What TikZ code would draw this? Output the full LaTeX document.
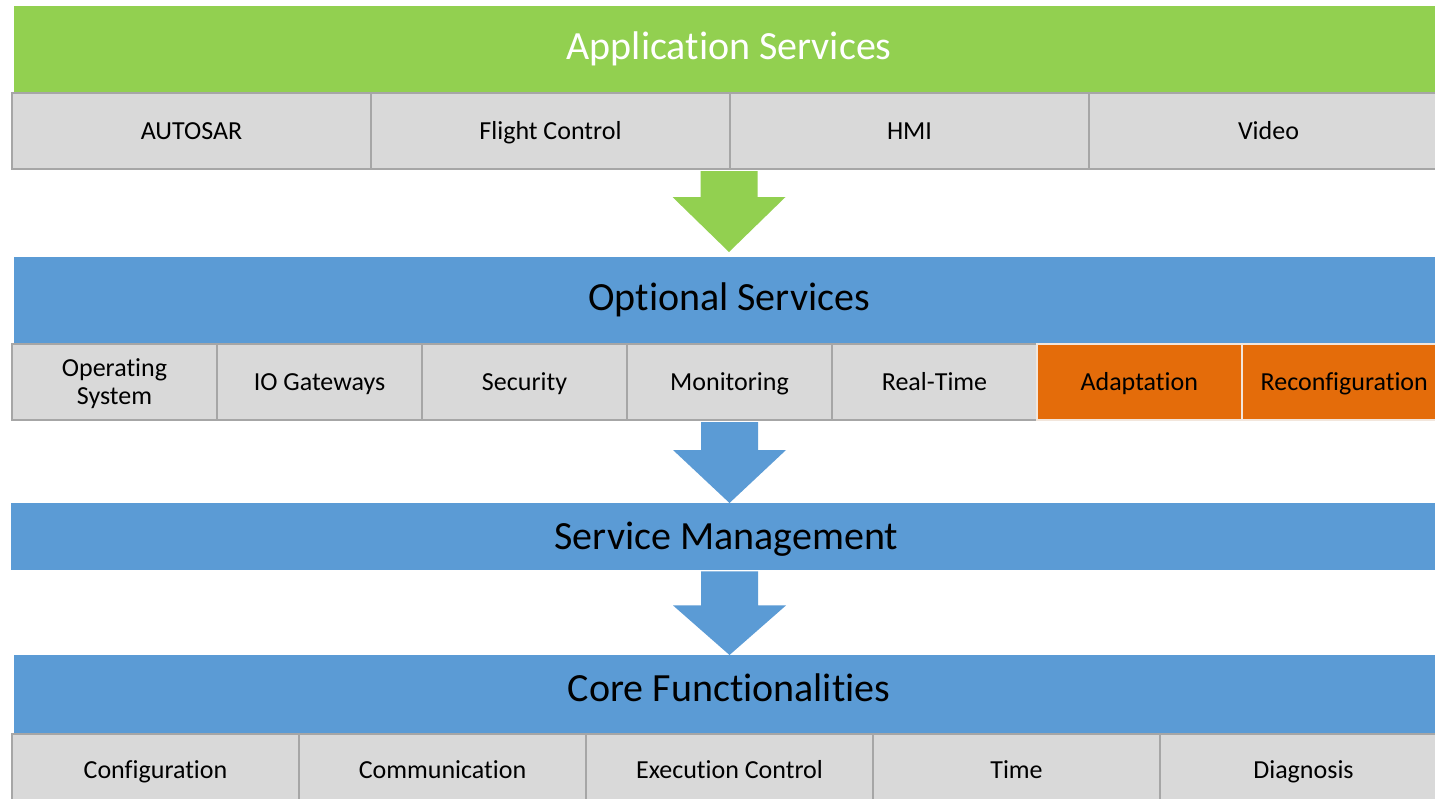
\documentclass[tikz,border=0pt]{standalone}
\usepackage{fontspec}
\setmainfont{Carlito}[Ligatures=NoCommon]
\usetikzlibrary{calc}
\definecolor{appgreen}{HTML}{92D050}
\definecolor{optblue}{HTML}{5B9BD5}
\definecolor{cellgray}{HTML}{D9D9D9}
\definecolor{cellborder}{HTML}{A6A6A6}
\definecolor{adaporange}{HTML}{E46C0A}
\definecolor{orangeborder}{HTML}{F2E6DC}
\newcommand\blockarr[4]{%
  \fill[#1] ($(#2)+(-28.5,1)$) -- ($(#2)+(28.5,1)$) -- ($(#2)+(28.5,#3)$) -- ($(#2)+(56.5,#3)$) -- (#4) -- ($(#2)+(-56.5,#3)$) -- ($(#2)+(-28.5,#3)$) -- cycle;}
\begin{document}
\begin{tikzpicture}[x=1pt,y=-1pt,
  band/.style={anchor=north west, inner sep=0pt, text height=30pt, text depth=10pt, font=\fontsize{40}{48}\selectfont},
  cell/.style={anchor=north west, draw=cellborder, line width=2pt, fill=cellgray, inner sep=0pt, align=center, text height=20pt, text depth=3pt, font=\fontsize{26}{28}\selectfont},
  hotcell/.style={cell, fill=adaporange, draw=orangeborder, line width=1.5pt},
  row1/.style={cell, minimum width=359pt, minimum height=76pt},
  row2/.style={cell, minimum width=205pt, minimum height=76pt},
  row2hot/.style={hotcell, minimum width=205pt, minimum height=76pt},
  row4/.style={cell, minimum width=287pt, minimum height=72pt}]
\useasboundingbox (0,0) rectangle (1435,798);
\clip (0,0) rectangle (1435,798);
\fill[white] (0,0) rectangle (1435,798);

% Application services
\node[band, fill=appgreen, text=white, minimum width=1430pt, minimum height=86pt] (app) at (14,6) {Application Services};
\node[row1] (autosar) at (11,92) {AUTOSAR};
\node[row1] (flight) at (370,92) {Flight Control};
\node[row1] (hmi) at (729,92) {HMI};
\node[row1] (video) at (1088,92) {Video};

% Optional services
\node[band, fill=optblue, minimum width=1430pt, minimum height=86pt] (opt) at (14,257) {Optional Services};
\node[row2, text height=48pt] (os) at (11,343) {Operating\\System};
\node[row2] (io) at (216,343) {IO Gateways};
\node[row2] (sec) at (421,343) {Security};
\node[row2] (mon) at (626,343) {Monitoring};
\node[row2] (rt) at (831,343) {Real-Time};
\node[row2hot] (adap) at (1036,343) {Adaptation};
\node[row2hot] (reconf) at (1241,343) {Reconfiguration};

% Service management
\node[band, fill=optblue, text depth=4pt, minimum width=1430pt, minimum height=67pt] (sm) at (11,503) {Service Management};

% Core functionalities
\node[band, fill=optblue, text depth=16pt, minimum width=1430pt, minimum height=78pt] (core) at (14,655) {Core Functionalities};
\node[row4] (conf) at (11,733) {Configuration};
\node[row4] (comm) at (298,733) {Communication};
\node[row4] (exec) at (585,733) {Execution Control};
\node[row4] (time) at (872,733) {Time};
\node[row4] (diag) at (1159,733) {Diagnosis};

% block arrows
\coordinate (a1s) at (hmi.south west);
\coordinate (a1t) at ($(hmi.south west |- opt.north)+(0,-5)$);
\blockarr{appgreen}{a1s}{27}{a1t}
\coordinate (a2s) at (mon.south);
\coordinate (a2t) at (mon.south |- sm.north);
\blockarr{optblue}{a2s}{29}{a2t}
\coordinate (a3s) at (mon.south |- sm.south);
\coordinate (a3t) at (mon.south |- core.north);
\blockarr{optblue}{a3s}{35}{a3t}
\end{tikzpicture}
\end{document}
